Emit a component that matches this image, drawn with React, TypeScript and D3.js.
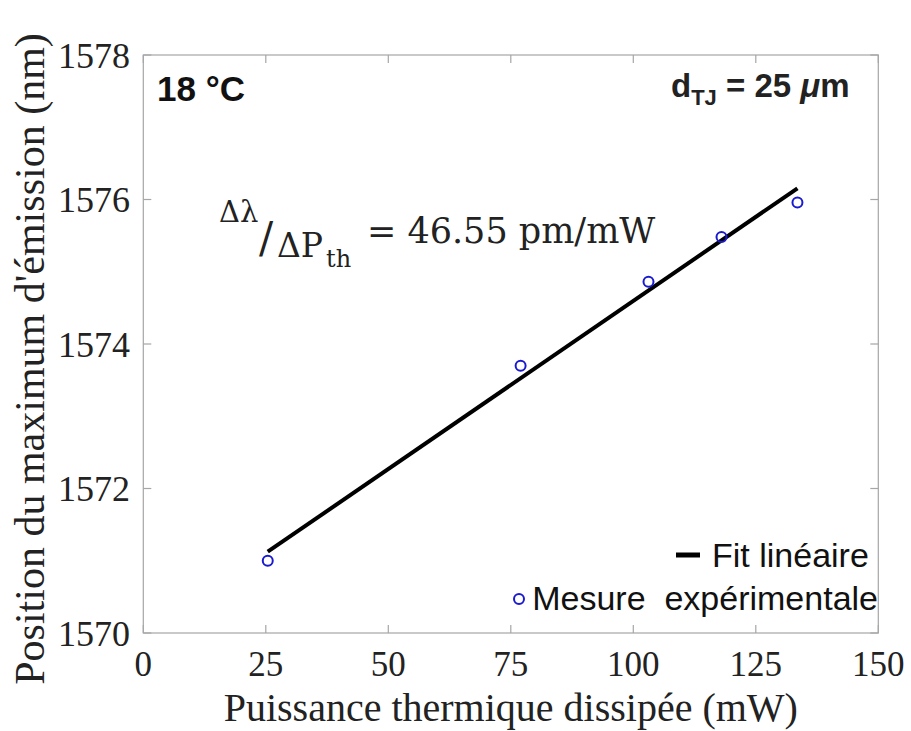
import React from 'react';
import * as d3 from 'd3';

// Data
const powerMW = [25.4, 77.0, 103.1, 118.0, 133.5];
const peakNm = [1571.0, 1573.7, 1574.86, 1575.48, 1575.96];
const fitX = [25.4, 133.5];
const fitY = [1571.125, 1576.155];
const xTicks = [0, 25, 50, 75, 100, 125, 150];
const yTicks = [1570, 1572, 1574, 1576, 1578];

const W = 911;
const H = 731;
const L = 143.3, R = 878.3, T = 55, B = 633;

export default function App() {
  const x = d3.scaleLinear().domain([0, 150]).range([L, R]);
  const y = d3.scaleLinear().domain([1570, 1578]).range([B, T]);
  const line = d3.line<number>().x((_, i) => x(fitX[i])).y((d) => y(d));
  const axisColor = '#a6a6a6';
  const tickLen = 8;
  const serif = '"Liberation Serif", "Times New Roman", serif';
  const sans = '"Liberation Sans", Arial, Helvetica, sans-serif';
  const math = '"DejaVu Serif", serif';

  return (
    <svg width={W} height={H} style={{ position: 'absolute', left: 0, top: 0, background: '#fff' }}>
      <rect x={0} y={0} width={W} height={H} fill="#fff" />
      {/* axis box */}
      <rect x={L} y={T} width={R - L} height={B - T} fill="none" stroke={axisColor} strokeWidth={1.2} />
      {xTicks.map((t) => (
        <g key={'xt' + t}>
          <line x1={x(t)} x2={x(t)} y1={B} y2={B - tickLen} stroke={axisColor} strokeWidth={1.2} />
          <line x1={x(t)} x2={x(t)} y1={T} y2={T + tickLen} stroke={axisColor} strokeWidth={1.2} />
          <text x={x(t)} y={676} textAnchor="middle" fontFamily={serif} fontSize={35} fill="#222">{t}</text>
        </g>
      ))}
      {yTicks.map((t) => (
        <g key={'yt' + t}>
          <line x1={L} x2={L + tickLen} y1={y(t)} y2={y(t)} stroke={axisColor} strokeWidth={1.2} />
          <line x1={R} x2={R - tickLen} y1={y(t)} y2={y(t)} stroke={axisColor} strokeWidth={1.2} />
          <text x={130} y={y(t)} dy="0.35em" textAnchor="end" fontFamily={serif} fontSize={36} fill="#222">{t}</text>
        </g>
      ))}
      {/* axis titles */}
      <text x={(L + R) / 2} y={721} textAnchor="middle" fontFamily={serif} fontSize={40} fill="#222">
        Puissance thermique dissipée (mW)
      </text>
      <text transform={`translate(44,${(T + B) / 2 + 15}) rotate(-90)`} textAnchor="middle" fontFamily={serif} fontSize={42} fill="#222">
        Position du maximum d'émission (nm)
      </text>

      {/* fit line */}
      <path d={line(fitY) || ''} fill="none" stroke="#000" strokeWidth={4} />
      {/* measurements */}
      {powerMW.map((p, i) => (
        <circle key={'pt' + i} cx={x(p)} cy={y(peakNm[i])} r={5} fill="none" stroke="#1a1ad0" strokeWidth={2} />
      ))}

      {/* annotations */}
      <text x={157} y={101} fontFamily={sans} fontWeight="bold" fontSize={35} fill="#111">18 °C</text>
      <text x={671} y={97} fontFamily={sans} fontWeight="bold" fontSize={33} fill="#222">
        d
        <tspan dy={8} fontSize={22}>TJ</tspan>
        <tspan dy={-8}> = 25 </tspan>
        <tspan fontStyle="italic">μ</tspan>
        <tspan>m</tspan>
      </text>

      {/* equation */}
      <text x={219} y={222} fontFamily={math} fontSize={29} fill="#222">Δλ</text>
      <text x={259} y={252} fontFamily={math} fontSize={42} fill="#222">/</text>
      <text x={277} y={257} fontFamily={math} fontSize={33} fill="#222">ΔP</text>
      <text x={326} y={267} fontFamily={math} fontSize={24} fill="#222">th</text>
      <text x={367} y={243} fontFamily={math} fontSize={35} fill="#222">= 46.55 pm/mW</text>

      {/* legend */}
      <line x1={676} x2={700} y1={555} y2={555} stroke="#000" strokeWidth={5} />
      <text x={712} y={567} fontFamily={sans} fontSize={34} fill="#111">Fit linéaire</text>
      <circle cx={519} cy={599} r={5} fill="none" stroke="#1a1ad0" strokeWidth={2} />
      <text x={878} y={610} textAnchor="end" fontFamily={sans} fontSize={34} fill="#111" style={{ whiteSpace: 'pre' }}>Mesure  expérimentale</text>
    </svg>
  );
}
